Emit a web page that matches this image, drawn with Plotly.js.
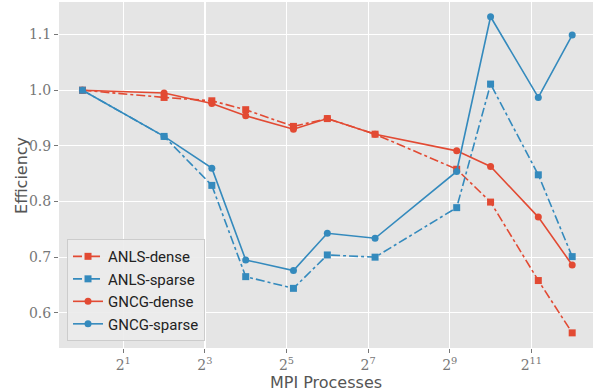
<!DOCTYPE html>
<html><head><meta charset="utf-8">
<script src="https://cdn.plot.ly/plotly-3.0.1.min.js"></script>
<style>html,body{margin:0;padding:0;background:#fff}#chart{width:597px;height:392px}</style>
</head><body><div id="chart"></div>
<script>
const processes = [1, 4, 9, 16, 36, 64, 144, 576, 1024, 2304, 4096];
const anlsDense  = [1.000, 0.987, 0.981, 0.965, 0.935, 0.949, 0.921, 0.858, 0.799, 0.658, 0.564];
const anlsSparse = [1.000, 0.917, 0.829, 0.665, 0.644, 0.704, 0.700, 0.789, 1.011, 0.848, 0.701];
const gncgDense  = [1.000, 0.995, 0.976, 0.954, 0.930, 0.949, 0.921, 0.891, 0.863, 0.772, 0.686];
const gncgSparse = [1.000, 0.917, 0.860, 0.695, 0.676, 0.743, 0.734, 0.854, 1.132, 0.987, 1.099];
const xTickVals = [2, 8, 32, 128, 512, 2048];
const xTickText = ['2<sup>1</sup>','2<sup>3</sup>','2<sup>5</sup>','2<sup>7</sup>','2<sup>9</sup>','2<sup>11</sup>'];
const yTickVals = [0.6, 0.7, 0.8, 0.9, 1.0, 1.1];
const yTickText = ['0.6','0.7','0.8','0.9','1.0','1.1'];

const red = '#E24A33', blue = '#348ABD';
function tr(name, y, color, dash, symbol, size) {
  return {x: processes, y: y, name: name, type: 'scatter', mode: 'lines+markers',
    line: {color: color, width: 1.6, dash: dash},
    marker: {color: color, symbol: symbol, size: size}};
}
const data = [
  tr('ANLS-dense', anlsDense, red, 'dashdot', 'square', 7),
  tr('ANLS-sparse', anlsSparse, blue, 'dashdot', 'square', 7),
  tr('GNCG-dense', gncgDense, red, 'solid', 'circle', 7),
  tr('GNCG-sparse', gncgSparse, blue, 'solid', 'circle', 7)
];
const layout = {
  width: 597, height: 392,
  margin: {l: 59, r: 4, t: 2, b: 44},
  paper_bgcolor: '#ffffff', plot_bgcolor: '#E5E5E5',
  showlegend: true,
  legend: {x: 0.015, y: 0.02, xanchor: 'left', yanchor: 'bottom',
    bgcolor: 'rgba(235,235,235,0.9)', bordercolor: '#cccccc', borderwidth: 1,
    font: {family: 'Roboto, sans-serif', size: 15, color: '#222'}},
  xaxis: {type: 'log', range: [Math.log10(Math.pow(2,-0.575)), Math.log10(Math.pow(2,12.51))],
    tickvals: xTickVals, ticktext: xTickText,
    tickfont: {family: 'DejaVu Serif, serif', size: 14, color: '#777'},
    showgrid: true, gridcolor: '#ffffff', gridwidth: 1.2, zeroline: false,
    ticks: 'outside', ticklen: 4, tickcolor: '#777', showline: false,
    title: {text: 'MPI Processes', font: {family: 'DejaVu Sans, sans-serif', size: 16, color: '#555'}, standoff: 6}},
  yaxis: {range: [0.5368, 1.1585], tickvals: yTickVals, ticktext: yTickText,
    tickfont: {family: 'DejaVu Serif, serif', size: 14, color: '#777'},
    showgrid: true, gridcolor: '#ffffff', gridwidth: 1.2, zeroline: false,
    ticks: 'outside', ticklen: 4, tickcolor: '#777', showline: false},
  annotations: [{text: 'Efficiency', xref: 'paper', yref: 'paper', x: -0.0712, y: 0.5,
    xanchor: 'center', yanchor: 'middle', textangle: -90, showarrow: false,
    font: {family: 'DejaVu Sans, sans-serif', size: 16, color: '#555'}}]
};
Plotly.newPlot('chart', data, layout, {displayModeBar: false, staticPlot: true});
</script></body></html>
